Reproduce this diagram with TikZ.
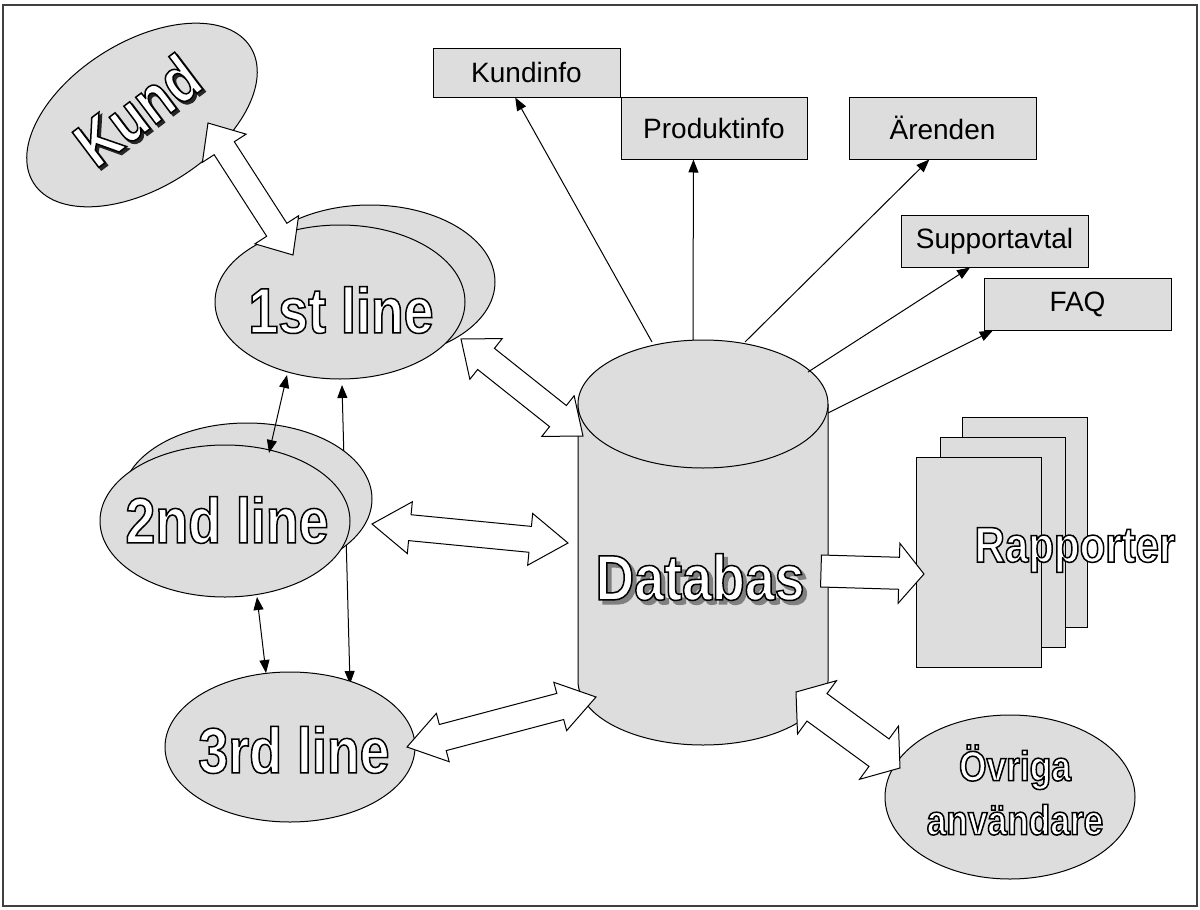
\documentclass[tikz,border=0pt]{standalone}
\usepackage{fontspec}
\setmainfont{Liberation Sans}
\newfontfamily\bigf[FakeStretch=0.84]{Liberation Sans}
\usetikzlibrary{shapes.geometric,arrows.meta,calc}
\definecolor{fillg}{RGB}{221,221,221}
% outlined text: white fill, black stroke (text render mode 2)
\newcommand\outl[1]{\textcolor{white}{\special{pdf:literal direct 0 G 2 Tr 1.5 w}#1\special{pdf:literal direct 0 Tr}}}
\newcommand\shad[2]{\textcolor{#1}{\special{pdf:literal direct 2 Tr 1.5 w}#2\special{pdf:literal direct 0 Tr}}}
\newcommand\blockarr[5]{%
  \draw[blockarrow] (#1) -- ($(#1)!#5!(#2)!#4!90:(#2)$) -- ($(#1)!#5!(#2)!#3!90:(#2)$)
    -- ($(#2)!#5!(#1)!#3!-90:(#1)$) -- ($(#2)!#5!(#1)!#4!-90:(#1)$) -- (#2)
    -- ($(#2)!#5!(#1)!#4!90:(#1)$) -- ($(#2)!#5!(#1)!#3!90:(#1)$)
    -- ($(#1)!#5!(#2)!#3!-90:(#2)$) -- ($(#1)!#5!(#2)!#4!-90:(#2)$) -- cycle;}
\begin{document}
\begin{tikzpicture}[x=1pt,y=-1pt,
  oval/.style={ellipse,draw,fill=fillg,line width=1pt,inner sep=0pt},
  infobox/.style={rectangle,draw,fill=fillg,line width=1pt,inner sep=0pt,font=\fontsize{28}{30}\selectfont},
  page/.style={rectangle,draw,fill=fillg,line width=1pt,minimum width=125pt,minimum height=210pt},
  blockarrow/.style={draw,fill=white,line width=1pt,line join=miter},
  tarrow/.style={-{Triangle[length=13pt,width=10pt]},line width=1pt},
  darrow/.style={{Triangle[length=13pt,width=10pt]}-{Triangle[length=13pt,width=10pt]},line width=1pt},
  bigtext/.style={font=\bigf\bfseries\fontsize{64}{70}\selectfont, inner sep=0pt},
  midtext/.style={font=\bigf\bfseries\fontsize{50}{56}\selectfont, inner sep=0pt},
  smalltext/.style={font=\bigf\bfseries\fontsize{42}{54}\selectfont, inner sep=0pt, align=center},
]
\useasboundingbox (0,0) rectangle (1200,910);
\draw[line width=1.5pt, black!75] (3,5) rectangle (1197,906);

% thin line 1st -> 3rd (behind 2nd line)
\coordinate (a13s) at (342,385);
\coordinate (a13e) at (350,684);
\draw[darrow] (a13s) -- (a13e);

% ellipses
\node[oval,minimum width=250pt,minimum height=154pt] (l1b) at (370,282) {};
\node[oval,minimum width=250pt,minimum height=154pt] (l1) at (340,302) {};
\node[oval,minimum width=250pt,minimum height=152pt] (l2b) at (247,499) {};
\node[oval,minimum width=250pt,minimum height=152pt] (l2) at (225,521) {};
\node[oval,minimum width=250pt,minimum height=150pt] (l3) at (290,747) {};
\node[oval,minimum width=256pt,minimum height=146pt,rotate=32] (kund) at (142,115) {};
\node[oval,minimum width=250pt,minimum height=164pt] (ov) at (1010,797) {};

% database cylinder
\fill[fillg] (578,404) -- (578,681) arc[start angle=180,end angle=0,x radius=125,y radius=64] -- (828,404) -- cycle;
\draw[line width=1pt] (578,404) -- (578,681) arc[start angle=180,end angle=0,x radius=125,y radius=64] -- (828,404);
\draw[fill=fillg,line width=1pt] (703,404) ellipse [x radius=125, y radius=64];
\coordinate (db1) at (652,342);
\coordinate (db2) at (693,340);
\coordinate (db3) at (745,342);
\coordinate (db4) at (808,372);
\coordinate (db5) at (828,413);

% report pages
\node[page] (pg3) at (1025,522) {};
\node[page] (pg2) at (1003,542) {};
\node[page] (pg1) at (979,562) {};

% info boxes
\node[infobox,minimum width=187pt,minimum height=49pt] (kinfo) at (526.5,72.5) {Kundinfo};
\node[infobox,minimum width=186pt,minimum height=62pt] (pinfo) at (714,128) {Produktinfo};
\node[infobox,minimum width=187pt,minimum height=62pt] (arend) at (942.5,128) {Ärenden};
\node[infobox,minimum width=187pt,minimum height=52pt] (supp) at (994.5,241) {Supportavtal};
\node[infobox,minimum width=187pt,minimum height=52pt] (faq) at (1077.5,304) {FAQ};

\draw[tarrow] (db1) -- ($(kinfo.south west)!0.44!(kinfo.south east)$);
\draw[tarrow] (db2) -- ($(pinfo.south west)!0.39!(pinfo.south east)$);
\draw[tarrow] (db3) -- ($(arend.south west)!0.43!(arend.south east)$);
\draw[tarrow] (db4) -- ($(supp.south west)!0.37!(supp.south east)$);
\draw[tarrow] (db5) -- ($(faq.south west)!0.05!(faq.south east)$);

% block arrows
\coordinate (ka) at (208,123);  \coordinate (kb) at (293,255);
\coordinate (fa) at (461,339);  \coordinate (fb) at (583,436);
\coordinate (sa) at (372,524);  \coordinate (sb) at (568,543);
\coordinate (ta) at (407,747);  \coordinate (tb) at (596,697);
\coordinate (oa) at (796,692);  \coordinate (ob) at (900,768);
\blockarr{ka}{kb}{12pt}{26pt}{30pt}
\blockarr{fa}{fb}{13.5pt}{26pt}{32pt}
\blockarr{sa}{sb}{13pt}{26pt}{38pt}
\blockarr{ta}{tb}{13.5pt}{25pt}{37pt}
\blockarr{oa}{ob}{17pt}{33pt}{26pt}

% single block arrow to reports
\coordinate (ra) at (821,571); \coordinate (rb) at (924,574);
\draw[blockarrow] ($(ra)!16pt!90:(rb)$) -- ($(rb)!25pt!(ra)!16pt!-90:(ra)$) -- ($(rb)!25pt!(ra)!30pt!-90:(ra)$)
  -- (rb) -- ($(rb)!25pt!(ra)!30pt!90:(ra)$) -- ($(rb)!25pt!(ra)!16pt!90:(ra)$) -- ($(ra)!16pt!-90:(rb)$) -- cycle;

% thin arrows between lines
\coordinate (a12s) at (287,375); \coordinate (a12e) at (269,453);
\coordinate (a23s) at (257,597); \coordinate (a23e) at (266,673);
\draw[darrow] (a12s) -- (a12e);
\draw[darrow] (a23s) -- (a23e);

% texts
\node[bigtext,rotate=37] (tkunds) at (139.5,112.5) {\shad{black!85}{Kund}};
\node[bigtext,rotate=37] (tkund) at (137,110) {\outl{Kund}};
\node[bigtext] (t1) at (341,310) {\outl{1st line}};
\node[bigtext] (t2) at (227,520) {\outl{2nd line}};
\node[bigtext] (t3) at (294,750) {\outl{3rd line}};
\node[bigtext] (tdbs) at (704,581) {\shad{black!50}{Databas}};
\node[bigtext] (tdb) at (700,577) {\outl{Databas}};
\node[midtext] (trap) at (1075,550) {\outl{Rapporter}};
\node[smalltext] (tov) at (1015,790) {\outl{Övriga}\\\outl{användare}};
\end{tikzpicture}
\end{document}
